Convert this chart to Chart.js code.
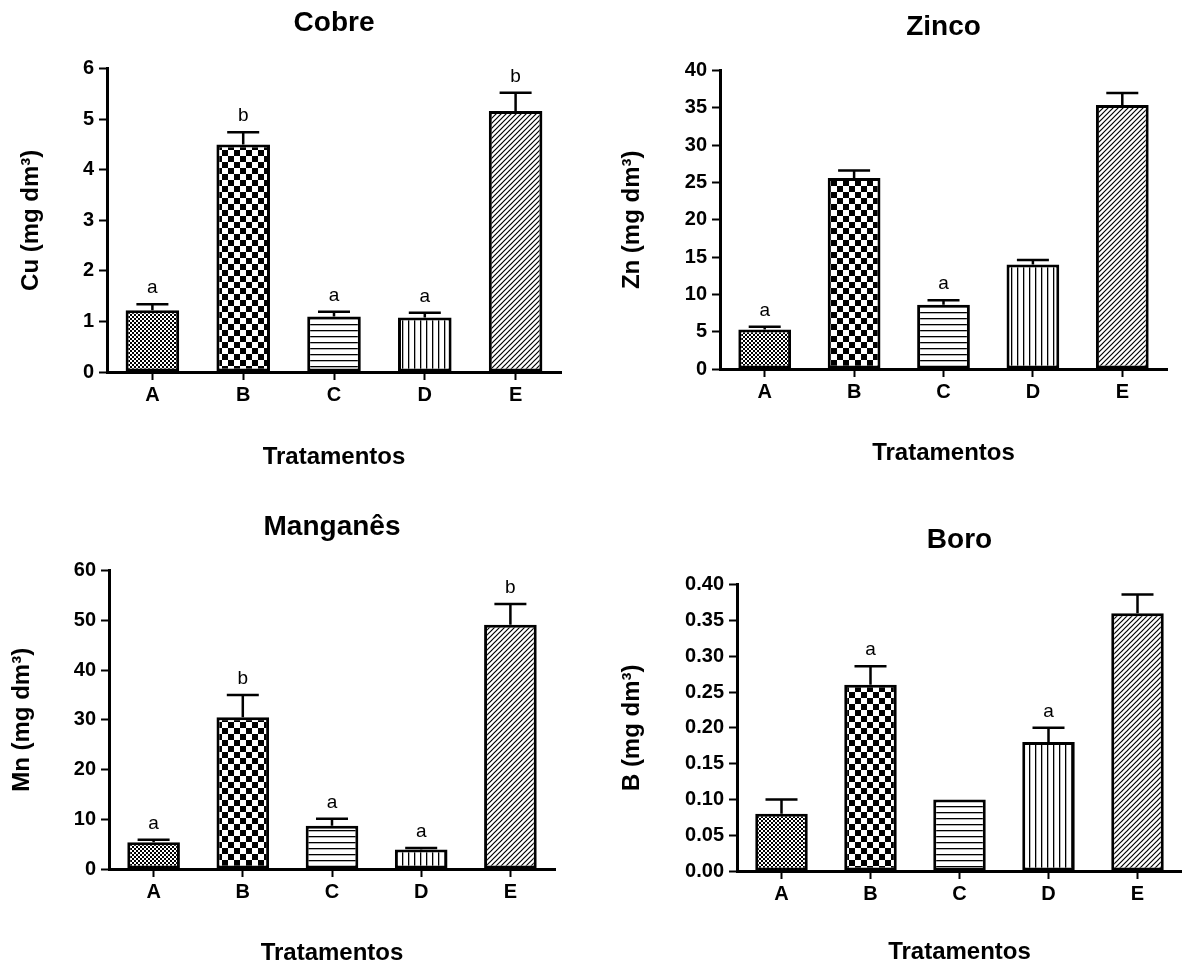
<!DOCTYPE html>
<html>
<head>
<meta charset="utf-8">
<title>Micronutrientes</title>
<script src="https://cdn.jsdelivr.net/npm/chart.js@4.4.0/dist/chart.umd.min.js"></script>
<style>
  html, body { margin: 0; padding: 0; background: #fff; overflow: hidden; }
  canvas { position: absolute; }
</style>
</head>
<body>
<canvas id="cuChart" width="591" height="482" style="left:0;top:0"></canvas>
<canvas id="znChart" width="591" height="482" style="left:591px;top:0"></canvas>
<canvas id="mnChart" width="591" height="490" style="left:0;top:482px"></canvas>
<canvas id="bChart" width="591" height="490" style="left:591px;top:482px"></canvas>
<script>
// Data
const treatments = ['A', 'B', 'C', 'D', 'E'];

const cuMeans = [1.22, 4.50, 1.10, 1.08, 5.16];
const cuErrors = [0.12, 0.24, 0.09, 0.09, 0.36];
const cuLetters = ['a', 'b', 'a', 'a', 'b'];
const cuTicks = [0, 1, 2, 3, 4, 5, 6];

const znMeans = [5.3, 25.6, 8.6, 14.0, 35.4];
const znErrors = [0.35, 1.0, 0.6, 0.6, 1.6];
const znLetters = ['a', '', 'a', '', ''];
const znTicks = [0, 5, 10, 15, 20, 25, 30, 35, 40];

const mnMeans = [5.4, 30.5, 8.7, 3.9, 49.1];
const mnErrors = [0.5, 4.5, 1.4, 0.3, 4.2];
const mnLetters = ['a', 'b', 'a', 'a', 'b'];
const mnTicks = [0, 10, 20, 30, 40, 50, 60];

const bMeans = [0.08, 0.26, 0.10, 0.18, 0.36];
const bErrors = [0.02, 0.026, 0, 0.02, 0.026];
const bLetters = ['', 'a', '', 'a', ''];
const bTicks = [0, 0.05, 0.10, 0.15, 0.20, 0.25, 0.30, 0.35, 0.40];

const FONT = "'Liberation Sans', Arial, Helvetica, sans-serif";
Chart.defaults.font.family = FONT;
Chart.defaults.color = '#000';

// Fill patterns, one per treatment
function makePattern(ctx, kind) {
    const tile = document.createElement('canvas');
    const t = tile.getContext('2d');
    let size = 6;
    if (kind === 'fineCheck') size = 4;
    if (kind === 'coarseCheck') size = 12;
    if (kind === 'diagonal') size = 5;
    tile.width = size;
    tile.height = size;
    t.fillStyle = '#fff';
    t.fillRect(0, 0, size, size);
    t.fillStyle = '#000';
    t.strokeStyle = '#000';

    if (kind === 'fineCheck' || kind === 'coarseCheck') {
        const h = size / 2;
        t.fillRect(0, 0, h, h);
        t.fillRect(h, h, h, h);
    } else if (kind === 'hLines') {
        t.fillRect(0, 0, size, 1.3);
    } else if (kind === 'vLines') {
        t.fillRect(0, 0, 1.3, size);
    } else if (kind === 'diagonal') {
        t.lineWidth = 1.2;
        t.beginPath();
        t.moveTo(-1, size + 1); t.lineTo(size + 1, -1);
        t.moveTo(-1, 1); t.lineTo(1, -1);
        t.moveTo(size - 1, size + 1); t.lineTo(size + 1, size - 1);
        t.stroke();
    }
    return ctx.createPattern(tile, 'repeat');
}

// Error bars (upper half only) and significance letters
const errorBarsPlugin = {
    id: 'errorBars',
    afterDatasetsDraw(chart) {
        const ctx = chart.ctx;
        const yScale = chart.scales.y;
        const ds = chart.data.datasets[0];
        const meta = chart.getDatasetMeta(0);
        ctx.save();
        ctx.strokeStyle = '#000';
        ctx.lineWidth = 2.5;
        meta.data.forEach((bar, i) => {
            const err = ds.errors[i];
            const top = yScale.getPixelForValue(ds.data[i] + err);
            if (err > 0) {
                ctx.beginPath();
                ctx.moveTo(bar.x, bar.y);
                ctx.lineTo(bar.x, top);
                ctx.moveTo(bar.x - 16, top);
                ctx.lineTo(bar.x + 16, top);
                ctx.stroke();
            }
            const letter = ds.letters[i];
            if (letter) {
                ctx.fillStyle = '#000';
                ctx.font = '19px ' + FONT;
                ctx.textAlign = 'center';
                ctx.textBaseline = 'alphabetic';
                ctx.fillText(letter, bar.x, top - 11);
            }
        });
        ctx.restore();
    }
};

function buildPanel(canvasId, panel) {
    const canvas = document.getElementById(canvasId);
    const ctx = canvas.getContext('2d');
    const fills = ['fineCheck', 'coarseCheck', 'hLines', 'vLines', 'diagonal'].map(k => makePattern(ctx, k));

    return new Chart(ctx, {
        type: 'bar',
        data: {
            labels: treatments,
            datasets: [{
                data: panel.means,
                errors: panel.errors,
                letters: panel.letters,
                backgroundColor: fills,
                borderColor: '#000',
                borderWidth: 3,
                borderSkipped: false,
                categoryPercentage: 1,
                barPercentage: 0.59
            }]
        },
        options: {
            responsive: false,
            animation: false,
            events: [],
            layout: { padding: { left: 0, right: panel.padRight, top: 0, bottom: 0 } },
            plugins: {
                legend: { display: false },
                tooltip: { enabled: false },
                title: {
                    display: true,
                    text: panel.title,
                    fullSize: false,
                    color: '#000',
                    font: { size: 28, weight: 'bold' },
                    padding: panel.titlePad
                }
            },
            scales: {
                x: {
                    offset: true,
                    grid: {
                        display: true, drawOnChartArea: false, drawTicks: true,
                        tickLength: 8, tickWidth: 2, tickColor: '#000', offset: false
                    },
                    border: { display: true, color: '#000', width: 3 },
                    ticks: { color: '#000', font: { size: 20, weight: 'bold' }, padding: 3, maxRotation: 0, autoSkip: false },
                    title: {
                        display: true, text: 'Tratamentos', color: '#000',
                        font: { size: 24, weight: 'bold' },
                        padding: { top: 0, bottom: panel.xTitlePad }
                    },
                    afterFit(scale) { scale.height = panel.xHeight; }
                },
                y: {
                    min: panel.ticks[0],
                    max: panel.ticks[panel.ticks.length - 1],
                    grid: {
                        display: true, drawOnChartArea: false, drawTicks: true,
                        tickLength: 8, tickWidth: 2, tickColor: '#000'
                    },
                    border: { display: true, color: '#000', width: 3 },
                    afterBuildTicks(scale) { scale.ticks = panel.ticks.map(v => ({ value: v })); },
                    ticks: {
                        color: '#000', font: { size: 20, weight: 'bold' }, padding: 5,
                        callback: v => panel.decimals ? Number(v).toFixed(panel.decimals) : String(v)
                    },
                    title: {
                        display: true, text: panel.yTitle, color: '#000',
                        font: { size: 24, weight: 'bold' },
                        padding: { top: panel.yTitlePad, bottom: 0 }
                    },
                    afterFit(scale) { scale.width = panel.yWidth; }
                }
            }
        },
        plugins: [errorBarsPlugin]
    });
}

buildPanel('cuChart', {
    title: 'Cobre', yTitle: 'Cu (mg dm³)',
    means: cuMeans, errors: cuErrors, letters: cuLetters, ticks: cuTicks, decimals: 0,
    padRight: 30, titlePad: { top: 6, bottom: 29 }, yWidth: 107, yTitlePad: 17, xHeight: 110, xTitlePad: 10
});

buildPanel('znChart', {
    title: 'Zinco', yTitle: 'Zn (mg dm³)',
    means: znMeans, errors: znErrors, letters: znLetters, ticks: znTicks, decimals: 0,
    padRight: 15, titlePad: { top: 10, bottom: 27 }, yWidth: 129, yTitlePad: 27, xHeight: 113, xTitlePad: 14
});

buildPanel('mnChart', {
    title: 'Manganês', yTitle: 'Mn (mg dm³)',
    means: mnMeans, errors: mnErrors, letters: mnLetters, ticks: mnTicks, decimals: 0,
    padRight: 36, titlePad: { top: 28, bottom: 27 }, yWidth: 109, yTitlePad: 8, xHeight: 103, xTitlePad: 4
});

buildPanel('bChart', {
    title: 'Boro', yTitle: 'B (mg dm³)',
    means: bMeans, errors: bErrors, letters: bLetters, ticks: bTicks, decimals: 2,
    padRight: 0, titlePad: { top: 41, bottom: 28 }, yWidth: 146, yTitlePad: 27, xHeight: 101, xTitlePad: 5
});
</script>
</body>
</html>
